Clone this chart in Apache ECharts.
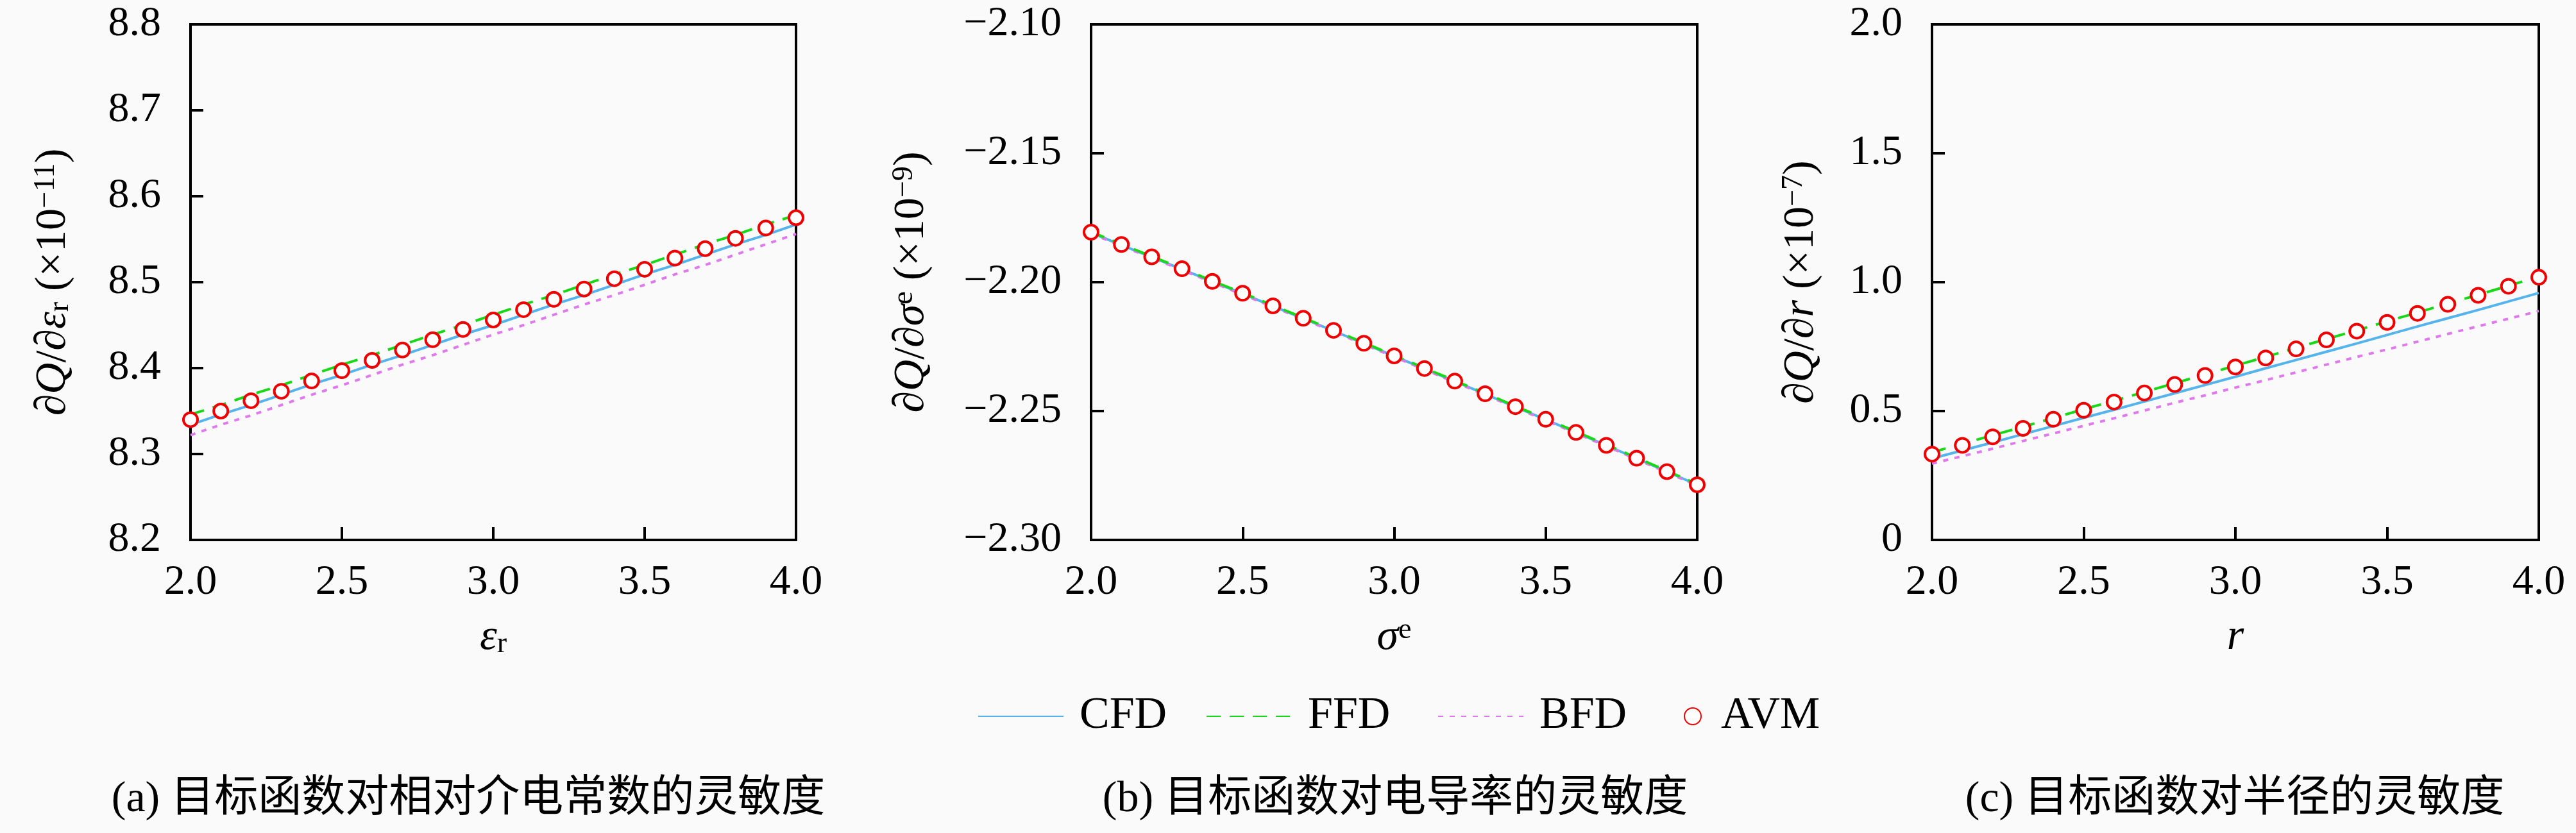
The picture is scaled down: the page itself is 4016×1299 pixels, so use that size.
<!DOCTYPE html>
<html>
<head>
<meta charset="utf-8">
<script src="https://cdn.jsdelivr.net/npm/echarts@6/dist/echarts.min.js"></script>
<style>
html, body { margin: 0; padding: 0; background: #fafafa; }
#main { width: 4016px; height: 1299px; }
</style>
</head>
<body>
<div id="main"></div>
<script>
var xs = [2.0, 2.1, 2.2, 2.3, 2.4, 2.5, 2.6, 2.7, 2.8, 2.9, 3.0, 3.1, 3.2, 3.3, 3.4, 3.5, 3.6, 3.7, 3.8, 3.9, 4.0];

// (a) relative permittivity
var epsCFD = [8.334, 8.346, 8.357, 8.369, 8.381, 8.392, 8.404, 8.415, 8.427, 8.439, 8.450, 8.462, 8.474, 8.485, 8.497, 8.509, 8.520, 8.532, 8.544, 8.555, 8.567];
var epsFFD = [8.346, 8.357, 8.369, 8.380, 8.392, 8.404, 8.415, 8.427, 8.439, 8.450, 8.462, 8.474, 8.485, 8.497, 8.509, 8.520, 8.532, 8.544, 8.555, 8.567, 8.578];
var epsBFD = [8.322, 8.334, 8.345, 8.357, 8.369, 8.380, 8.392, 8.404, 8.415, 8.427, 8.439, 8.450, 8.462, 8.474, 8.485, 8.497, 8.509, 8.520, 8.532, 8.544, 8.556];
var epsAVM = [8.340, 8.350, 8.362, 8.373, 8.385, 8.397, 8.409, 8.421, 8.433, 8.445, 8.456, 8.468, 8.480, 8.492, 8.504, 8.515, 8.528, 8.539, 8.551, 8.563, 8.575];

// (b) conductivity
var sigCFD = [-2.1808, -2.1856, -2.1903, -2.1950, -2.1998, -2.2045, -2.2093, -2.2141, -2.2189, -2.2238, -2.2287, -2.2336, -2.2385, -2.2434, -2.2484, -2.2533, -2.2583, -2.2633, -2.2684, -2.2735, -2.2786];
var sigFFD = [-2.1805, -2.1853, -2.1900, -2.1947, -2.1995, -2.2042, -2.2090, -2.2138, -2.2186, -2.2235, -2.2284, -2.2333, -2.2382, -2.2431, -2.2481, -2.2530, -2.2580, -2.2630, -2.2681, -2.2732, -2.2783];
var sigBFD = [-2.1811, -2.1859, -2.1906, -2.1953, -2.2001, -2.2048, -2.2096, -2.2144, -2.2192, -2.2241, -2.2290, -2.2339, -2.2388, -2.2437, -2.2487, -2.2536, -2.2586, -2.2636, -2.2687, -2.2738, -2.2789];
var sigAVM = [-2.1806, -2.1854, -2.1902, -2.1948, -2.1997, -2.2043, -2.2092, -2.2140, -2.2187, -2.2237, -2.2286, -2.2335, -2.2384, -2.2433, -2.2483, -2.2532, -2.2583, -2.2633, -2.2683, -2.2735, -2.2786];

// (c) radius
var radCFD = [0.316, 0.347, 0.378, 0.410, 0.442, 0.474, 0.505, 0.537, 0.569, 0.601, 0.633, 0.666, 0.698, 0.730, 0.762, 0.795, 0.828, 0.860, 0.892, 0.925, 0.958];
var radFFD = [0.340, 0.373, 0.406, 0.439, 0.473, 0.507, 0.540, 0.574, 0.608, 0.642, 0.676, 0.710, 0.745, 0.779, 0.813, 0.848, 0.882, 0.917, 0.951, 0.986, 1.021];
var radBFD = [0.296, 0.325, 0.354, 0.384, 0.413, 0.443, 0.472, 0.502, 0.532, 0.561, 0.591, 0.620, 0.650, 0.680, 0.710, 0.739, 0.769, 0.799, 0.829, 0.858, 0.888];
var radAVM = [0.333, 0.367, 0.400, 0.433, 0.468, 0.503, 0.535, 0.570, 0.603, 0.638, 0.671, 0.706, 0.741, 0.776, 0.810, 0.844, 0.879, 0.914, 0.949, 0.984, 1.019];

var captions = ['(a) 目标函数对相对介电常数的灵敏度', '(b) 目标函数对电导率的灵敏度', '(c) 目标函数对半径的灵敏度'];
var yNames = [
    '{d|∂}{i|Q}/{d|∂}{i|ε}{sub|r} (×10{sup|−11})',
    '{d|∂}{i|Q}/{d|∂}{i|σ}{sup|e} (×10{sup|−9})',
    '{d|∂}{i|Q}/{d|∂}{i|r} (×10{sup|−7})'
];
var xNames = ['{i|ε}{sub|r}', '{i|σ}{sup|e}', '{i|r}'];

var SERIF = '"Liberation Serif", "Times New Roman", serif';
var colors = { CFD: '#55b4ec', FFD: '#18d818', BFD: '#de7aec', AVM: '#f00000' };

var dom = document.getElementById('main');
var myChart = echarts.init(dom);

function pairs(v) {
    return xs.map(function (x, i) { return [x, v[i]]; });
}

function richStyle(size) {
    return {
        i: { fontFamily: SERIF, fontStyle: 'italic', fontSize: size },
        d: { fontFamily: SERIF, fontStyle: 'italic', fontSize: size },
        sub: { fontFamily: SERIF, fontSize: size * 0.68, lineHeight: size * 0.68, verticalAlign: 'bottom', padding: [size * 0.5, 0, 0, 0] },
        sup: { fontFamily: SERIF, fontSize: size * 0.68, lineHeight: size * 0.68, verticalAlign: 'top' }
    };
}

var grids = [
    { left: 297, top: 38, width: 944, height: 804 },
    { left: 1701, top: 38, width: 945, height: 804 },
    { left: 3012, top: 38, width: 946, height: 804 }
];
var yRanges = [
    { min: 8.2, max: 8.8, interval: 0.1, digits: 1 },
    { min: -2.3, max: -2.1, interval: 0.05, digits: 2 },
    { min: 0, max: 2, interval: 0.5, digits: 1 }
];
var yNameGaps = [180, 246, 170];
var panelData = [
    [epsCFD, epsFFD, epsBFD, epsAVM],
    [sigCFD, sigFFD, sigBFD, sigAVM],
    [radCFD, radFFD, radBFD, radAVM]
];

var legendText = { fontFamily: SERIF, fontSize: 70, color: '#000', lineHeight: 76 };

var option = {
    backgroundColor: '#fafafa',
    animation: false,
    grid: grids.map(function (g) {
        return Object.assign({ show: true, borderColor: '#000', borderWidth: 4, backgroundColor: 'transparent' }, g);
    }),
    xAxis: [0, 1, 2].map(function (k) {
        return {
            gridIndex: k,
            type: 'value',
            min: 2, max: 4, interval: 0.5,
            name: xNames[k],
            nameLocation: 'middle',
            nameGap: 118,
            nameTextStyle: { fontFamily: SERIF, fontSize: 68, color: '#000', rich: richStyle(68) },
            axisLine: { lineStyle: { color: '#000', width: 4 } },
            axisTick: { inside: true, length: 20, lineStyle: { color: '#000', width: 4 } },
            axisLabel: {
                fontFamily: SERIF, fontSize: 66, color: '#000', margin: 34,
                formatter: function (v) { return v.toFixed(1); }
            },
            splitLine: { show: false }
        };
    }),
    yAxis: [0, 1, 2].map(function (k) {
        var r = yRanges[k];
        return {
            gridIndex: k,
            type: 'value',
            min: r.min, max: r.max, interval: r.interval,
            name: yNames[k],
            nameLocation: 'middle',
            nameGap: yNameGaps[k],
            nameTextStyle: { fontFamily: SERIF, fontSize: 68, color: '#000', rich: richStyle(68) },
            axisLine: { lineStyle: { color: '#000', width: 4 } },
            axisTick: { inside: true, length: 20, lineStyle: { color: '#000', width: 4 } },
            axisLabel: {
                fontFamily: SERIF, fontSize: 66, color: '#000', margin: 46,
                formatter: function (v) {
                    if (Math.abs(v) < 1e-9) return '0';
                    return v.toFixed(r.digits).replace('-', '−');
                }
            },
            splitLine: { show: false }
        };
    }),
    legend: [
        { data: ['CFD'], left: 1519 },
        { data: ['FFD'], left: 1875 },
        { data: ['BFD'], left: 2236 },
        { data: ['AVM'], left: 2620, itemWidth: 26, itemHeight: 26, itemStyle: {},
          textStyle: Object.assign({ padding: [0, 0, 0, 26] }, legendText) }
    ].map(function (l) {
        return Object.assign({
            top: 1074,
            itemWidth: 133,
            itemHeight: 20,
            selectedMode: false,
            itemStyle: { opacity: 0 },
            textStyle: Object.assign({ padding: [0, 0, 0, 20] }, legendText)
        }, l);
    }),
    graphic: [0, 1, 2].map(function (k) {
        return {
            type: 'text', x: [730, 2175, 3484][k], y: 1247,
            style: {
                text: captions[k], fontSize: 68, fontFamily: '"Liberation Serif", "Noto Sans CJK SC"',
                fill: '#000', align: 'center', verticalAlign: 'middle'
            }
        };
    }),
    series: []
};

panelData.forEach(function (sets, k) {
    option.series.push({
        name: 'CFD', type: 'line', xAxisIndex: k, yAxisIndex: k, showSymbol: false, symbol: 'none',
        data: pairs(sets[0]), lineStyle: { color: colors.CFD, width: 4, type: 'solid' }, itemStyle: { color: colors.CFD }, z: 2
    });
    option.series.push({
        name: 'FFD', type: 'line', xAxisIndex: k, yAxisIndex: k, showSymbol: false, symbol: 'none',
        data: pairs(sets[1]), lineStyle: { color: colors.FFD, width: 4, type: [22, 14] }, itemStyle: { color: colors.FFD }, z: 3
    });
    option.series.push({
        name: 'BFD', type: 'line', xAxisIndex: k, yAxisIndex: k, showSymbol: false, symbol: 'none',
        data: pairs(sets[2]), lineStyle: { color: colors.BFD, width: 4, type: [8, 10] }, itemStyle: { color: colors.BFD }, z: 2
    });
    option.series.push({
        name: 'AVM', type: 'scatter', xAxisIndex: k, yAxisIndex: k, symbol: 'circle', symbolSize: 22,
        data: pairs(sets[3]), itemStyle: { color: '#ffffff', borderColor: colors.AVM, borderWidth: 4, opacity: 1 }, z: 5
    });
});

if (option && typeof option === 'object') {
    myChart.setOption(option, true);
}
</script>
</body>
</html>
